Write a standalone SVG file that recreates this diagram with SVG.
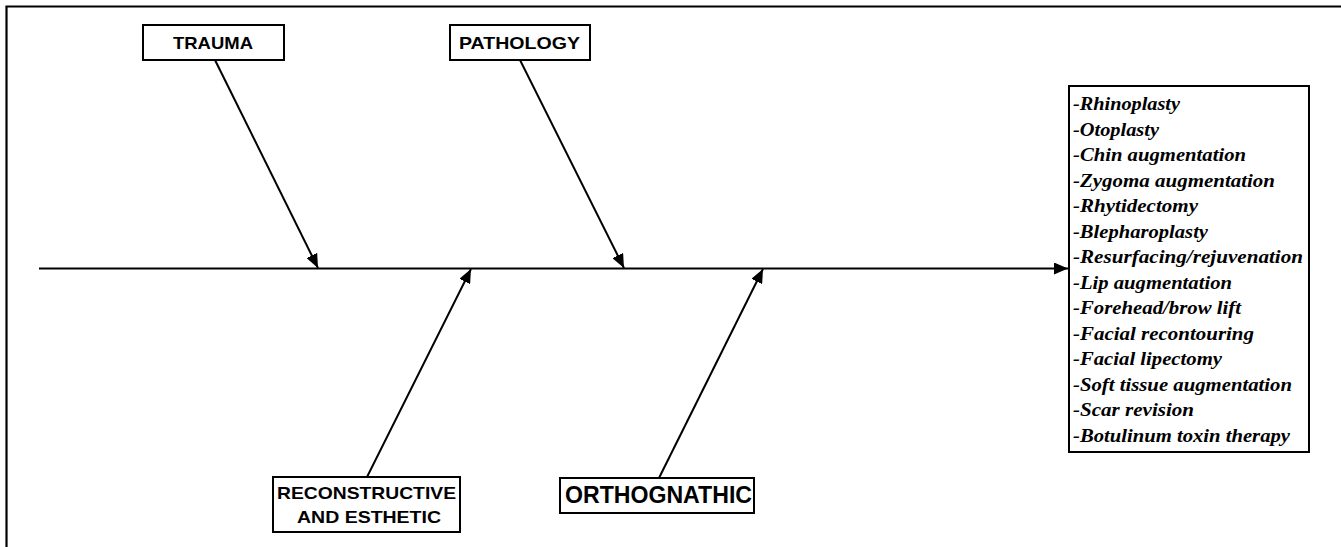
<svg xmlns="http://www.w3.org/2000/svg" width="1341" height="547" viewBox="0 0 1341 547">
<defs>
<marker id="ah" viewBox="0 0 14 12" refX="14" refY="6" markerWidth="14" markerHeight="12" markerUnits="userSpaceOnUse" orient="auto">
<path d="M0,0 L14,6 L0,12 Z" fill="#000"/>
</marker>
</defs>
<style>
.box{fill:#fff;stroke:#000;stroke-width:2}
.lbl{font-family:"Liberation Sans",Arial,sans-serif;font-weight:bold;fill:#000}
.item{font-family:"Liberation Serif","Times New Roman",serif;font-weight:bold;font-style:italic;font-size:19.5px;fill:#000}
.conn{stroke:#000;stroke-width:2;fill:none;marker-end:url(#ah)}
</style>
<rect width="1341" height="547" fill="#fff"/>
<path d="M6.5,547 V6.5 H1341" fill="none" stroke="#000" stroke-width="2.2"/>
<g id="connectors">
<line class="conn" x1="39" y1="268.5" x2="1068" y2="268.5"/>
<line class="conn" x1="215" y1="60" x2="318" y2="268"/>
<line class="conn" x1="520" y1="60" x2="624" y2="268"/>
<line class="conn" x1="367" y1="477" x2="471" y2="269"/>
<line class="conn" x1="659" y1="478" x2="763" y2="269"/>
</g>
<g id="trauma">
<rect class="box" x="143" y="25" width="141" height="35"/>
<text class="lbl" x="173" y="49" font-size="17" textLength="80" lengthAdjust="spacingAndGlyphs">TRAUMA</text>
</g>
<g id="pathology">
<rect class="box" x="450" y="25" width="140" height="35"/>
<text class="lbl" x="459" y="49" font-size="17" textLength="121" lengthAdjust="spacingAndGlyphs">PATHOLOGY</text>
</g>
<g id="reconstructive">
<rect class="box" x="273" y="477" width="187" height="55"/>
<text class="lbl" x="277" y="499" font-size="17" textLength="179" lengthAdjust="spacingAndGlyphs">RECONSTRUCTIVE</text>
<text class="lbl" x="297" y="523" font-size="17" textLength="144" lengthAdjust="spacingAndGlyphs">AND ESTHETIC</text>
</g>
<g id="orthognathic">
<rect class="box" x="560" y="478" width="194" height="35"/>
<text class="lbl" x="565" y="503" font-size="24" textLength="187" lengthAdjust="spacingAndGlyphs">ORTHOGNATHIC</text>
</g>
<g id="procedures">
<rect class="box" x="1069" y="86" width="240" height="366"/>
<text class="item" x="1073" y="110" textLength="107" lengthAdjust="spacingAndGlyphs">-Rhinoplasty</text>
<text class="item" x="1073" y="135.5" textLength="86" lengthAdjust="spacingAndGlyphs">-Otoplasty</text>
<text class="item" x="1073" y="161" textLength="173" lengthAdjust="spacingAndGlyphs">-Chin augmentation</text>
<text class="item" x="1073" y="186.5" textLength="202" lengthAdjust="spacingAndGlyphs">-Zygoma augmentation</text>
<text class="item" x="1073" y="212" textLength="125" lengthAdjust="spacingAndGlyphs">-Rhytidectomy</text>
<text class="item" x="1073" y="237.5" textLength="135" lengthAdjust="spacingAndGlyphs">-Blepharoplasty</text>
<text class="item" x="1073" y="263" textLength="230" lengthAdjust="spacingAndGlyphs">-Resurfacing/rejuvenation</text>
<text class="item" x="1073" y="288.5" textLength="159" lengthAdjust="spacingAndGlyphs">-Lip augmentation</text>
<text class="item" x="1073" y="314" textLength="168" lengthAdjust="spacingAndGlyphs">-Forehead/brow lift</text>
<text class="item" x="1073" y="339.5" textLength="181" lengthAdjust="spacingAndGlyphs">-Facial recontouring</text>
<text class="item" x="1073" y="365" textLength="149" lengthAdjust="spacingAndGlyphs">-Facial lipectomy</text>
<text class="item" x="1073" y="390.5" textLength="219" lengthAdjust="spacingAndGlyphs">-Soft tissue augmentation</text>
<text class="item" x="1073" y="416" textLength="121" lengthAdjust="spacingAndGlyphs">-Scar revision</text>
<text class="item" x="1073" y="441.5" textLength="217" lengthAdjust="spacingAndGlyphs">-Botulinum toxin therapy</text>
</g>
</svg>
